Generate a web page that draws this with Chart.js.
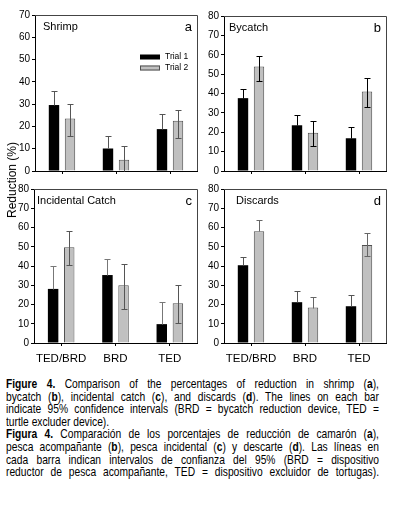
<!DOCTYPE html>
<html>
<head>
<meta charset="utf-8">
<script src="https://cdn.jsdelivr.net/npm/chart.js@4.4.1/dist/chart.umd.min.js"></script>
<style>
  body { margin: 0; background: #fff; }
  #page { position: relative; width: 395px; height: 505px; overflow: hidden; background: #fff; }
  .panel { position: absolute; }
  #ytitle {
    position: absolute; left: 12px; top: 180px;
    transform: translate(-50%, -50%) rotate(-90deg);
    font: 12px "Liberation Sans", Arial, sans-serif; white-space: nowrap; color: #000;
  }
  #caption {
    position: absolute; left: 6px; top: 378px; width: 451px;
    transform: scaleX(0.827); transform-origin: 0 0;
    font: 12.4px "Liberation Sans", Arial, sans-serif;
    line-height: 12.6px; color: #000;
  }
  #caption div { white-space: nowrap; text-align: justify; text-align-last: justify; }
  #caption div.last { text-align-last: left; }
</style>
</head>
<body>
<div id="page">
  <div class="panel" style="left:0;top:0;width:200px;height:180px"><canvas id="chartA"></canvas></div>
  <div class="panel" style="left:190px;top:0;width:200px;height:180px"><canvas id="chartB"></canvas></div>
  <div class="panel" style="left:0;top:175px;width:200px;height:200px"><canvas id="chartC"></canvas></div>
  <div class="panel" style="left:190px;top:175px;width:200px;height:200px"><canvas id="chartD"></canvas></div>
  <div id="ytitle">Reduction (%)</div>
  <div id="caption">
    <div><b>Figure 4.</b> Comparison of the percentages of reduction in shrimp (<b>a</b>),</div>
    <div>bycatch (<b>b</b>), incidental catch (<b>c</b>), and discards (<b>d</b>). The lines on each bar</div>
    <div>indicate 95% confidence intervals (BRD = bycatch reduction device, TED =</div>
    <div class="last">turtle excluder device).</div>
    <div><b>Figura 4.</b> Comparación de los porcentajes de reducción de camarón (<b>a</b>),</div>
    <div>pesca acompañante (<b>b</b>), pesca incidental (<b>c</b>) y descarte (<b>d</b>). Las líneas en</div>
    <div>cada barra indican intervalos de confianza del 95% (BRD = dispositivo</div>
    <div>reductor de pesca acompañante, TED = dispositivo excluidor de tortugas).</div>
  </div>
</div>
<script>
const categories = ["TED/BRD", "BRD", "TED"];
const seriesNames = ["Trial 1", "Trial 2"];

// a - shrimp
const shrimpTrial1 = [29.6, 10.1, 18.8];
const shrimpTrial1Hi = [35.9, 15.8, 25.4];
const shrimpTrial2 = [23.6, 5.1, 22.5];
const shrimpTrial2Lo = [15.8, 0, 14.9];
const shrimpTrial2Hi = [29.9, 11.1, 27.5];

// b - bycatch
const bycatchTrial1 = [37.6, 23.6, 16.9];
const bycatchTrial1Hi = [42.1, 29.1, 22.9];
const bycatchTrial2 = [54.0, 19.8, 41.0];
const bycatchTrial2Lo = [46.5, 12.9, 33.1];
const bycatchTrial2Hi = [59.6, 26.0, 47.9];

// c - incidental catch
const incidentalTrial1 = [28.1, 35.3, 9.8];
const incidentalTrial1Hi = [39.8, 43.6, 21.2];
const incidentalTrial2 = [49.7, 30.0, 20.7];
const incidentalTrial2Lo = [40.5, 17.6, 10.5];
const incidentalTrial2Hi = [58.2, 41.2, 30.0];

// d - discards
const discardsTrial1 = [40.4, 21.2, 19.1];
const discardsTrial1Hi = [44.8, 26.8, 25.0];
const discardsTrial2 = [58.0, 18.4, 50.9];
const discardsTrial2Lo = [58.0, 18.4, 45.0];
const discardsTrial2Hi = [63.9, 23.8, 57.1];

// error bars (95% CI) drawn from the y scale
const errorBars = {
  id: "errorBars",
  afterDatasetsDraw(chart) {
    const ctx = chart.ctx;
    const y = chart.scales.y;
    chart.data.datasets.forEach((ds, i) => {
      const meta = chart.getDatasetMeta(i);
      ctx.save();
      ctx.strokeStyle = ds.errColor;
      ctx.lineWidth = 1;
      meta.data.forEach((bar, j) => {
        const x = Math.round(bar.x) + 0.5;
        const top = y.getPixelForValue(ds.hi[j]);
        const lo = ds.lo ? ds.lo[j] : ds.data[j];
        const bottom = y.getPixelForValue(lo);
        ctx.beginPath();
        ctx.moveTo(x, Math.round(bottom) + 0.5);
        ctx.lineTo(x, Math.round(top) + 0.5);
        ctx.moveTo(x - 3, Math.round(top) + 0.5);
        ctx.lineTo(x + 3, Math.round(top) + 0.5);
        if (lo > 0 && lo < ds.data[j]) {
          ctx.moveTo(x - 3, Math.round(bottom) + 0.5);
          ctx.lineTo(x + 3, Math.round(bottom) + 0.5);
        }
        ctx.stroke();
      });
      ctx.restore();
    });
  }
};

// top/right frame, panel names and legend
const panelDecor = {
  id: "panelDecor",
  afterDraw(chart, args, opts) {
    const ctx = chart.ctx;
    const a = chart.chartArea;
    ctx.save();
    ctx.strokeStyle = "#444";
    ctx.lineWidth = 1;
    ctx.beginPath();
    ctx.moveTo(a.left, Math.round(a.top) + 0.5);
    ctx.lineTo(Math.round(a.right) + 0.5, Math.round(a.top) + 0.5);
    ctx.lineTo(Math.round(a.right) + 0.5, a.bottom);
    ctx.stroke();

    ctx.fillStyle = "#000";
    ctx.textBaseline = "middle";
    ctx.font = "11px 'Liberation Sans', Arial, sans-serif";
    ctx.textAlign = "left";
    ctx.fillText(opts.title, a.left + opts.titleX, a.top + 12);
    ctx.font = "13px 'Liberation Sans', Arial, sans-serif";
    ctx.textAlign = "right";
    ctx.fillText(opts.letter, a.right - 5, a.top + 12);

    if (opts.legend) {
      ctx.font = "8.5px 'Liberation Sans', Arial, sans-serif";
      ctx.textAlign = "left";
      chart.data.datasets.forEach((ds, i) => {
        const ly = a.top + 42 + i * 11;
        ctx.fillStyle = ds.backgroundColor;
        ctx.fillRect(a.left + 105, ly - 2.5, 20, 5);
        if (ds.borderWidth) {
          ctx.strokeStyle = ds.borderColor;
          ctx.strokeRect(a.left + 105.5, ly - 2, 19, 4);
        }
        ctx.fillStyle = "#000";
        ctx.fillText(ds.label, a.left + 130, ly);
      });
    }
    ctx.restore();
  }
};

function createPanel(id, opts) {
  const datasets = [
    {
      label: seriesNames[0],
      data: opts.t1,
      hi: opts.t1Hi,
      backgroundColor: "#000",
      borderWidth: 0,
      errColor: opts.err1,
      categoryPercentage: 0.593,
      barPercentage: 0.65,
    },
    {
      label: seriesNames[1],
      data: opts.t2,
      lo: opts.t2Lo,
      hi: opts.t2Hi,
      backgroundColor: "#c0c0c0",
      borderColor: "#505050",
      borderWidth: 1,
      errColor: opts.err2,
      categoryPercentage: 0.593,
      barPercentage: 0.65,
    },
  ];

  const config = {
    type: "bar",
    data: { labels: categories, datasets: datasets },
    options: {
      responsive: true,
      maintainAspectRatio: false,
      animation: false,
      layout: { padding: { top: opts.padTop, right: opts.padRight, left: 0, bottom: 0 } },
      scales: {
        x: {
          grid: { offset: false, drawOnChartArea: false, tickLength: 3, color: "#000" },
          border: { color: "#000" },
          ticks: {
            display: opts.showLabels,
            color: "#000",
            padding: 6,
            font: { family: "'Liberation Sans', Arial, sans-serif", size: 11.5 },
            maxRotation: 0,
          },
          afterFit: (scale) => { scale.height = opts.xHeight; },
        },
        y: {
          min: 0,
          max: opts.yMax,
          grid: { drawOnChartArea: false, tickLength: 3, color: "#000" },
          border: { color: "#000" },
          ticks: {
            stepSize: 10,
            color: "#000",
            padding: 2,
            font: { family: "'Liberation Sans', Arial, sans-serif", size: 10 },
          },
          afterFit: (scale) => { scale.width = opts.yWidth; },
        },
      },
      plugins: {
        legend: { display: false },
        tooltip: { enabled: false },
        panelDecor: { title: opts.title, letter: opts.letter, titleX: opts.titleX, legend: opts.legend },
      },
    },
    plugins: [errorBars, panelDecor],
  };

  new Chart(document.getElementById(id), config);
}

createPanel("chartA", {
  t1: shrimpTrial1, t1Hi: shrimpTrial1Hi,
  t2: shrimpTrial2, t2Lo: shrimpTrial2Lo, t2Hi: shrimpTrial2Hi,
  yMax: 70, title: "Shrimp", letter: "a", titleX: 8, legend: true,
  err1: "#555", err2: "#555",
  padTop: 15, padRight: 3, yWidth: 35, xHeight: 9, showLabels: false,
});
createPanel("chartB", {
  t1: bycatchTrial1, t1Hi: bycatchTrial1Hi,
  t2: bycatchTrial2, t2Lo: bycatchTrial2Lo, t2Hi: bycatchTrial2Hi,
  yMax: 80, title: "Bycatch", letter: "b", titleX: 5, legend: false,
  err1: "#000", err2: "#000",
  padTop: 16, padRight: 4, yWidth: 34, xHeight: 9, showLabels: false,
});
createPanel("chartC", {
  t1: incidentalTrial1, t1Hi: incidentalTrial1Hi,
  t2: incidentalTrial2, t2Lo: incidentalTrial2Lo, t2Hi: incidentalTrial2Hi,
  yMax: 80, title: "Incidental Catch", letter: "c", titleX: 3, legend: false,
  err1: "#777", err2: "#555",
  padTop: 14, padRight: 3, yWidth: 34, xHeight: 32, showLabels: true,
});
createPanel("chartD", {
  t1: discardsTrial1, t1Hi: discardsTrial1Hi,
  t2: discardsTrial2, t2Lo: discardsTrial2Lo, t2Hi: discardsTrial2Hi,
  yMax: 80, title: "Discards", letter: "d", titleX: 12, legend: false,
  err1: "#555", err2: "#666",
  padTop: 14, padRight: 4, yWidth: 34, xHeight: 32, showLabels: true,
});
</script>
</body>
</html>
